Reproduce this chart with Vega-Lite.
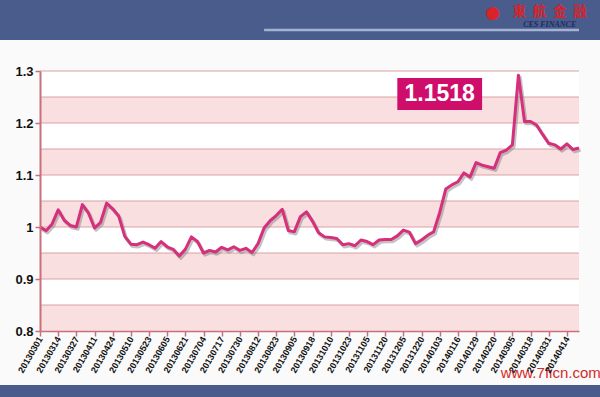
{
  "$schema": "https://vega.github.io/schema/vega-lite/v6.json",
  "width": 600,
  "height": 397,
  "autosize": {"type": "none"},
  "padding": 0,
  "background": "#fafafa",
  "config": {"view": {"stroke": null}, "font": "Liberation Sans"},
  "datasets": {
    "series": [
      {"d": "20130301", "v": 1.000}, {"d": "20130306", "v": 0.993}, {"d": "20130311", "v": 1.006},
      {"d": "20130314", "v": 1.033}, {"d": "20130319", "v": 1.013}, {"d": "20130322", "v": 1.003},
      {"d": "20130327", "v": 1.000}, {"d": "20130401", "v": 1.043}, {"d": "20130408", "v": 1.027},
      {"d": "20130411", "v": 0.998}, {"d": "20130416", "v": 1.009}, {"d": "20130419", "v": 1.046},
      {"d": "20130424", "v": 1.035}, {"d": "20130502", "v": 1.021}, {"d": "20130507", "v": 0.982},
      {"d": "20130510", "v": 0.967}, {"d": "20130515", "v": 0.966}, {"d": "20130520", "v": 0.971},
      {"d": "20130523", "v": 0.966}, {"d": "20130528", "v": 0.959}, {"d": "20130531", "v": 0.972},
      {"d": "20130605", "v": 0.962}, {"d": "20130613", "v": 0.957}, {"d": "20130618", "v": 0.944},
      {"d": "20130621", "v": 0.957}, {"d": "20130626", "v": 0.981}, {"d": "20130701", "v": 0.972},
      {"d": "20130704", "v": 0.950}, {"d": "20130709", "v": 0.955}, {"d": "20130712", "v": 0.952},
      {"d": "20130717", "v": 0.961}, {"d": "20130722", "v": 0.956}, {"d": "20130725", "v": 0.962},
      {"d": "20130730", "v": 0.955}, {"d": "20130802", "v": 0.959}, {"d": "20130807", "v": 0.951},
      {"d": "20130812", "v": 0.968}, {"d": "20130815", "v": 0.998}, {"d": "20130820", "v": 1.012},
      {"d": "20130823", "v": 1.022}, {"d": "20130828", "v": 1.034}, {"d": "20130902", "v": 0.993},
      {"d": "20130905", "v": 0.991}, {"d": "20130910", "v": 1.020}, {"d": "20130913", "v": 1.029},
      {"d": "20130918", "v": 1.011}, {"d": "20130925", "v": 0.989}, {"d": "20130930", "v": 0.981},
      {"d": "20131010", "v": 0.980}, {"d": "20131015", "v": 0.978}, {"d": "20131018", "v": 0.966},
      {"d": "20131023", "v": 0.968}, {"d": "20131028", "v": 0.964}, {"d": "20131031", "v": 0.975},
      {"d": "20131105", "v": 0.972}, {"d": "20131108", "v": 0.966}, {"d": "20131114", "v": 0.975},
      {"d": "20131120", "v": 0.976}, {"d": "20131125", "v": 0.976}, {"d": "20131129", "v": 0.983},
      {"d": "20131205", "v": 0.994}, {"d": "20131210", "v": 0.990}, {"d": "20131216", "v": 0.968},
      {"d": "20131220", "v": 0.975}, {"d": "20131225", "v": 0.984}, {"d": "20131230", "v": 0.991},
      {"d": "20140103", "v": 1.028}, {"d": "20140108", "v": 1.073}, {"d": "20140113", "v": 1.081},
      {"d": "20140116", "v": 1.087}, {"d": "20140121", "v": 1.104}, {"d": "20140124", "v": 1.096},
      {"d": "20140129", "v": 1.124}, {"d": "20140210", "v": 1.119}, {"d": "20140213", "v": 1.116},
      {"d": "20140220", "v": 1.113}, {"d": "20140225", "v": 1.143}, {"d": "20140228", "v": 1.148},
      {"d": "20140305", "v": 1.158}, {"d": "20140310", "v": 1.292}, {"d": "20140313", "v": 1.203},
      {"d": "20140318", "v": 1.203}, {"d": "20140321", "v": 1.196}, {"d": "20140326", "v": 1.178},
      {"d": "20140331", "v": 1.161}, {"d": "20140403", "v": 1.158}, {"d": "20140409", "v": 1.150},
      {"d": "20140414", "v": 1.160}, {"d": "20140417", "v": 1.149}, {"d": "20140422", "v": 1.1518}
    ],
    "bands": [
      {"lo": 0.8, "hi": 0.85}, {"lo": 0.9, "hi": 0.95}, {"lo": 1.0, "hi": 1.05},
      {"lo": 1.1, "hi": 1.15}, {"lo": 1.2, "hi": 1.25}
    ],
    "grid": [
      {"g": 0.85}, {"g": 0.9}, {"g": 0.95}, {"g": 1.0}, {"g": 1.05}, {"g": 1.1},
      {"g": 1.15}, {"g": 1.2}, {"g": 1.25}, {"g": 1.3}
    ],
    "one": [{}]
  },
  "layer": [
    {
      "data": {"name": "one"},
      "mark": {"type": "rect", "color": "#4a5c8c"},
      "encoding": {
        "y": {"datum": 1.4365, "type": "quantitative", "scale": {"domain": [0.8, 1.3], "range": [331, 71], "zero": false, "nice": false}},
        "y2": {"datum": 1.3596}
      }
    },
    {
      "data": {"name": "one"},
      "mark": {"type": "rect", "color": "#4a5c8c"},
      "encoding": {
        "y": {"datum": 0.6962, "type": "quantitative"},
        "y2": {"datum": 0.67}
      }
    },
    {
      "data": {"name": "one"},
      "mark": {"type": "rule", "color": "#a3b3cf", "strokeWidth": 2.5},
      "encoding": {
        "x": {"datum": "20130815", "type": "ordinal", "scale": {"type": "point", "range": [40, 579], "padding": 0}},
        "x2": {"datum": "20140422"},
        "y": {"datum": 1.3788, "type": "quantitative"}
      }
    },
    {
      "data": {"name": "one"},
      "mark": {"type": "rect", "color": "#ffffff"},
      "encoding": {
        "x": {"datum": "20130301", "type": "ordinal"},
        "x2": {"datum": "20140422"},
        "y": {"datum": 0.8, "type": "quantitative"},
        "y2": {"datum": 1.3}
      }
    },
    {
      "data": {"name": "bands"},
      "mark": {"type": "rect", "color": "#f9dfdf"},
      "encoding": {
        "x": {"datum": "20130301", "type": "ordinal"},
        "x2": {"datum": "20140422"},
        "y": {"field": "lo", "type": "quantitative"},
        "y2": {"field": "hi"}
      }
    },
    {
      "data": {"name": "grid"},
      "mark": {"type": "rule", "color": "#d9a2a6", "strokeWidth": 1},
      "encoding": {
        "x": {"datum": "20130301", "type": "ordinal"},
        "x2": {"datum": "20140422"},
        "y": {"field": "g", "type": "quantitative"}
      }
    },
    {
      "data": {"name": "one"},
      "mark": {"type": "rect", "color": "#cf0e6c"},
      "encoding": {
        "x": {"datum": "20131129", "type": "ordinal"},
        "x2": {"datum": "20140210"},
        "y": {"datum": 1.2865, "type": "quantitative"},
        "y2": {"datum": 1.225}
      }
    },
    {
      "data": {"name": "one"},
      "mark": {"type": "text", "text": "1.1518", "color": "#ffffff", "fontSize": 23, "fontWeight": "bold", "align": "center", "baseline": "middle", "font": "Liberation Sans"},
      "encoding": {
        "x": {"datum": "20140103", "type": "ordinal"},
        "y": {"datum": 1.2557, "type": "quantitative"}
      }
    },
    {
      "data": {"name": "series"},
      "mark": {"type": "line", "color": "#7a7a7a", "opacity": 0.45, "strokeWidth": 3.5, "xOffset": 1.5, "yOffset": 2, "strokeJoin": "round"},
      "encoding": {
        "x": {"field": "d", "type": "ordinal"},
        "y": {"field": "v", "type": "quantitative"}
      }
    },
    {
      "data": {"name": "series"},
      "mark": {"type": "line", "color": "#d62f7c", "strokeWidth": 3, "strokeJoin": "round"},
      "encoding": {
        "x": {
          "field": "d", "type": "ordinal",
          "scale": {"type": "point", "range": [40, 579], "padding": 0},
          "axis": {
            "title": null, "grid": false, "zindex": 1, "offset": -66,
            "values": ["20130301","20130314","20130327","20130411","20130424","20130510","20130523","20130605","20130621","20130704","20130717","20130730","20130812","20130823","20130905","20130918","20131010","20131023","20131105","20131120","20131205","20131220","20140103","20140116","20140129","20140220","20140305","20140318","20140331","20140414"],
            "labelAngle": -60, "labelFont": "Liberation Sans", "labelFontWeight": "bold", "labelFontSize": 9, "labelColor": "#111111",
            "labelPadding": 1, "labelOverlap": false, "labelBound": false, "labelFlush": false,
            "tickColor": "#c8707c", "tickSize": 5, "tickWidth": 1.5, "domainColor": "#c8707c", "domainWidth": 1.5
          }
        },
        "y": {
          "field": "v", "type": "quantitative",
          "scale": {"domain": [0.8, 1.3], "range": [331, 71], "zero": false, "nice": false},
          "axis": {
            "title": null, "grid": false, "zindex": 1, "offset": -40,
            "values": [0.8, 0.9, 1, 1.1, 1.2, 1.3], "format": "~g",
            "labelFont": "Liberation Sans", "labelFontWeight": "bold", "labelFontSize": 13, "labelColor": "#111111",
            "labelPadding": 2, "tickColor": "#c8707c", "tickSize": 5, "tickWidth": 1.5, "domainColor": "#c8707c", "domainWidth": 2
          }
        }
      }
    },
    {
      "data": {"name": "one"},
      "mark": {"type": "text", "text": "東\u2002航\u2002金\u2002融", "color": "#d8232a", "fontSize": 13.5, "fontWeight": "bold", "align": "center", "baseline": "middle", "font": "Noto Sans CJK TC", "dx": 1},
      "encoding": {
        "x": {"datum": "20140331", "type": "ordinal"},
        "y": {"datum": 1.4135, "type": "quantitative"}
      }
    },
    {
      "data": {"name": "one"},
      "mark": {"type": "text", "text": "CES FINANCE", "color": "#1d2b5e", "fontSize": 8, "fontWeight": "bold", "fontStyle": "italic", "align": "center", "baseline": "middle", "font": "Liberation Serif", "dx": 1},
      "encoding": {
        "x": {"datum": "20140331", "type": "ordinal"},
        "y": {"datum": 1.3894, "type": "quantitative"}
      }
    },
    {
      "data": {"name": "one"},
      "mark": {"type": "text", "text": "●", "color": "#d8232a", "fontSize": 17, "align": "center", "baseline": "middle", "font": "DejaVu Sans", "dx": -1.5},
      "encoding": {
        "x": {"datum": "20140220", "type": "ordinal"},
        "y": {"datum": 1.4115, "type": "quantitative"}
      }
    },
    {
      "data": {"name": "one"},
      "mark": {"type": "text", "text": "www.7ficn.com", "color": "#d42a2a", "fontSize": 15, "align": "center", "baseline": "middle", "font": "Liberation Sans", "dx": 2},
      "encoding": {
        "x": {"datum": "20140331", "type": "ordinal"},
        "y": {"datum": 0.7192, "type": "quantitative"}
      }
    }
  ]
}
